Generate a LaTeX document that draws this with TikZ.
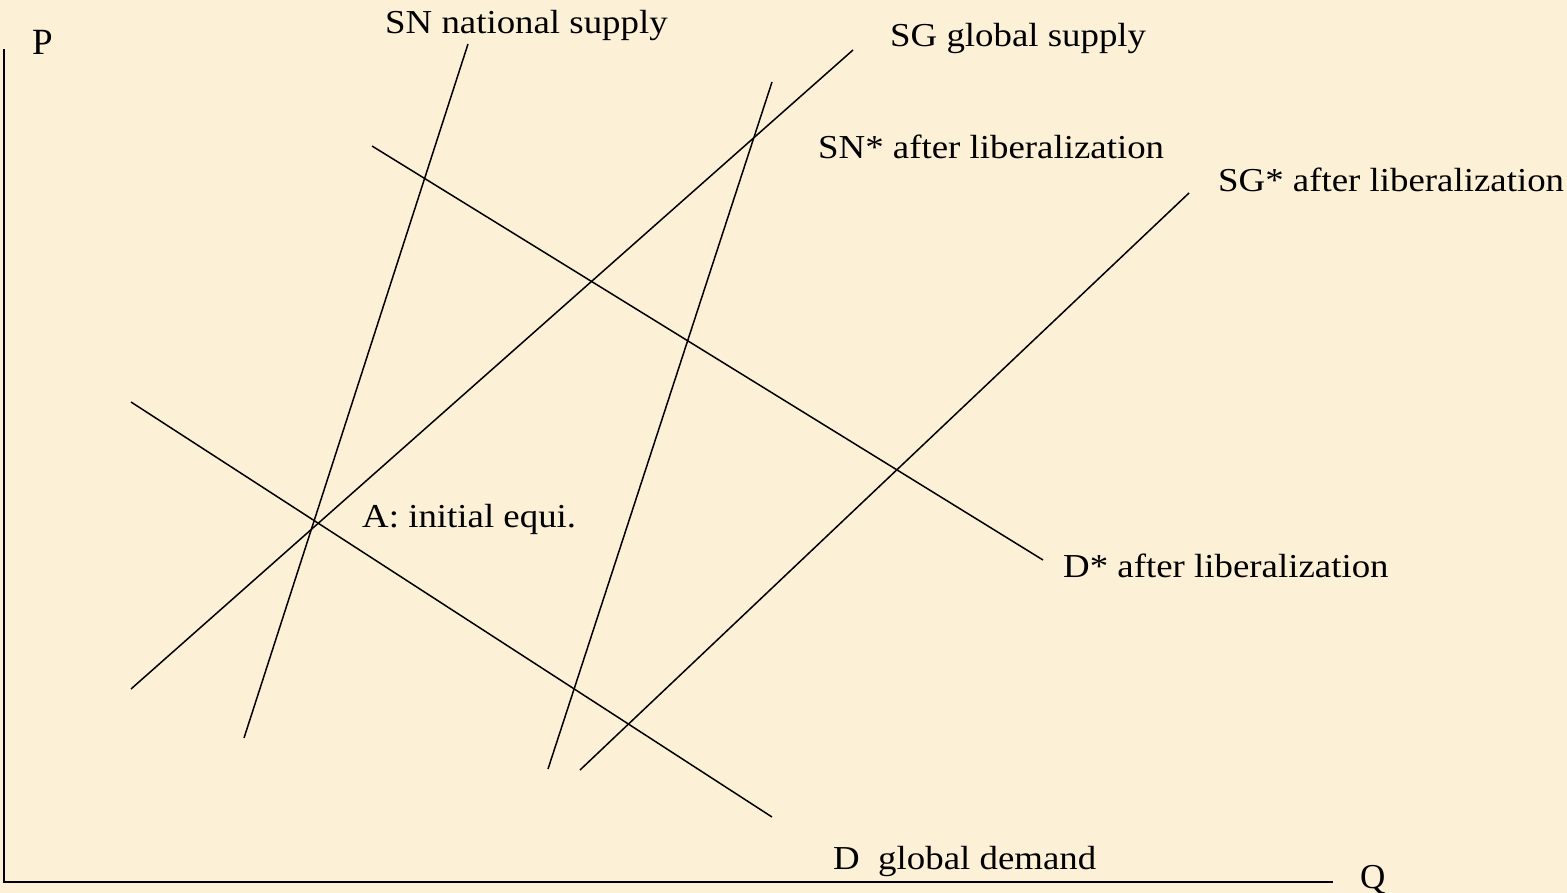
\documentclass[tikz,border=0pt]{standalone}
\usepackage{fontspec}
\setmainfont{Liberation Serif}
\definecolor{parch}{RGB}{252,240,214}
\tikzset{
  curve/.style={line width=1.5pt, black},
  axis/.style={line width=2.5pt, black, line cap=rect},
  lbl/.style={anchor=base west, inner sep=0pt, font=\fontsize{33.5}{40}\selectfont},
  axlbl/.style={anchor=base west, inner sep=0pt, font=\fontsize{36}{42}\selectfont},
}
\newcommand{\wtx}[1]{\scalebox{1.1}[1]{#1}}
\begin{document}
\begin{tikzpicture}[x=1pt,y=-1pt]
\fill[parch] (0,0) rectangle (1567,893);
\useasboundingbox (0,0) rectangle (1567,893);
% axes
\coordinate (ytop) at (4,50);
\coordinate (orig) at (4,882);
\coordinate (xend) at (1332,882);
\draw[axis] (ytop) -- (orig) -- (xend);
% curve endpoints
\coordinate (sn1) at (244,738);  \coordinate (sn2) at (468,44);
\coordinate (sg1) at (131,689);  \coordinate (sg2) at (853,50);
\coordinate (sns1) at (548,769); \coordinate (sns2) at (772,82);
\coordinate (sgs1) at (580,770); \coordinate (sgs2) at (1189,193);
\coordinate (d1) at (131,402);   \coordinate (d2) at (772,817);
\coordinate (ds1) at (372,146);  \coordinate (ds2) at (1043,560);
\draw[curve] (sn1) -- (sn2);
\draw[curve] (sg1) -- (sg2);
\draw[curve] (sns1) -- (sns2);
\draw[curve] (sgs1) -- (sgs2);
\draw[curve] (d1) -- (d2);
\draw[curve] (ds1) -- (ds2);
% labels
\node[axlbl, font=\fontsize{37}{42}\selectfont] (P) at (32,55) {P};
\node[axlbl, font=\fontsize{35}{42}\selectfont] (Q) at (1360,888) {Q};
\node[lbl] (snl) at (385,34) {\wtx{SN national supply}};
\node[lbl] (sgl) at (890,47) {\wtx{SG global supply}};
\node[lbl] (snsl) at (818,159) {\wtx{SN* after liberalization}};
\node[lbl] (sgsl) at (1218,192) {\wtx{SG* after liberalization}};
\node[lbl] (al) at (362,527) {\wtx{A: initial equi.}};
\node[lbl] (dsl) at (1063,577) {\wtx{D* after liberalization}};
\node[lbl] (dl) at (833,869) {\wtx{D\ \ global demand}};
\end{tikzpicture}
\end{document}
